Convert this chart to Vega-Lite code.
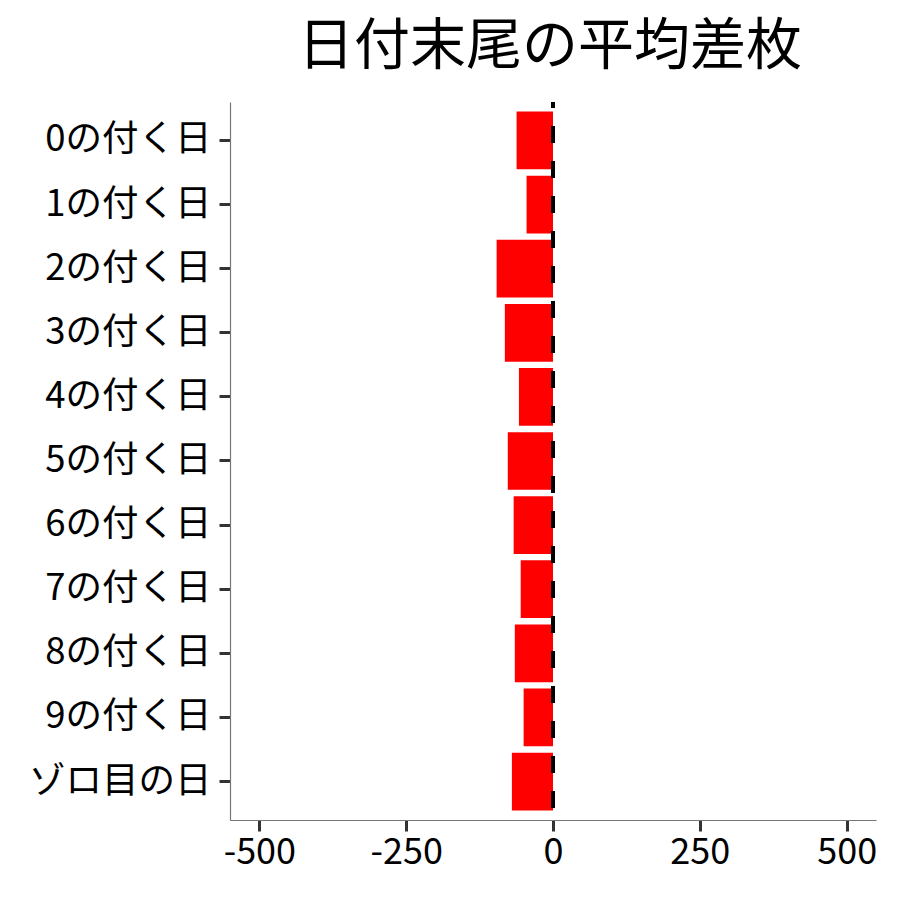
{
  "$schema": "https://vega.github.io/schema/vega-lite/v6.json",
  "autosize": "none",
  "width": 646,
  "height": 718,
  "padding": {"left": 230, "top": 102, "right": 24, "bottom": 80},
  "background": "white",
  "title": {
    "text": "日付末尾の平均差枚",
    "anchor": "middle",
    "fontSize": 56,
    "fontWeight": "normal",
    "font": "Noto Sans CJK JP",
    "color": "black",
    "offset": 24,
    "dx": -3
  },
  "data": {
    "values": [
      {"day": "0の付く日", "diff": -62},
      {"day": "1の付く日", "diff": -45},
      {"day": "2の付く日", "diff": -96},
      {"day": "3の付く日", "diff": -82},
      {"day": "4の付く日", "diff": -58},
      {"day": "5の付く日", "diff": -77},
      {"day": "6の付く日", "diff": -67},
      {"day": "7の付く日", "diff": -55},
      {"day": "8の付く日", "diff": -65},
      {"day": "9の付く日", "diff": -50},
      {"day": "ゾロ目の日", "diff": -70}
    ]
  },
  "layer": [
    {
      "mark": {"type": "bar", "color": "#ff0000"},
      "encoding": {
        "y": {
          "field": "day",
          "type": "nominal",
          "sort": null,
          "title": null,
          "scale": {"paddingInner": 0.1, "paddingOuter": 0.15},
          "axis": {"labelPadding": 8, "labelFontSize": 36.5, "labelLimit": 0}
        },
        "x": {
          "field": "diff",
          "type": "quantitative",
          "title": null,
          "scale": {"domain": [-550, 550], "nice": false, "zero": false},
          "axis": {
            "values": [-500, -250, 0, 250, 500],
            "labelExpr": "replace(datum.label, '−', '-')",
            "labelPadding": 4,
            "labelFontSize": 36
          }
        }
      }
    },
    {
      "mark": {"type": "rule", "color": "black", "strokeWidth": 3.5, "strokeDash": [17, 18], "strokeDashOffset": 11},
      "encoding": {
        "x": {"datum": 0}
      }
    }
  ],
  "config": {
    "view": {"stroke": null},
    "axis": {
      "grid": false,
      "labelFont": "Noto Sans CJK JP",
      "labelColor": "black",
      "domainColor": "#777777",
      "domainWidth": 1.2,
      "tickColor": "#333333",
      "tickWidth": 3,
      "tickSize": 11
    }
  }
}
